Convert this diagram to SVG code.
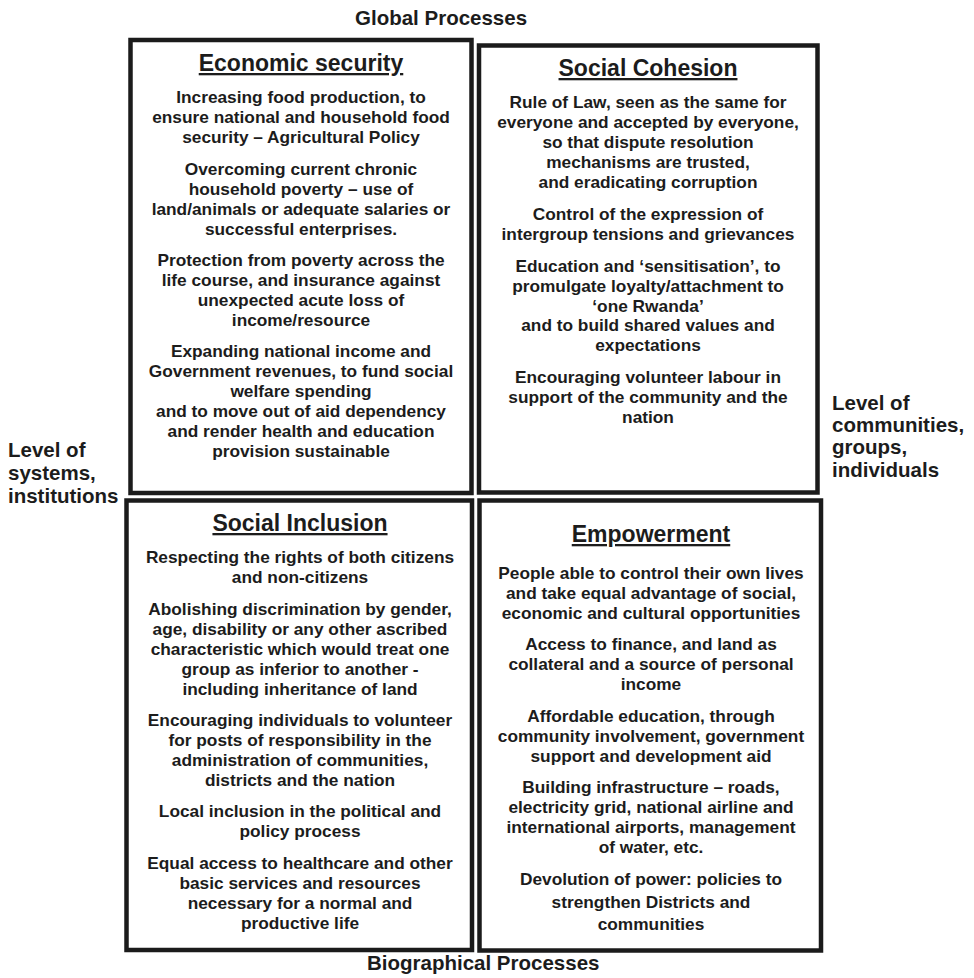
<svg xmlns="http://www.w3.org/2000/svg" width="974" height="978" viewBox="0 0 974 978">
  <style>
    .box { fill: #ffffff; stroke: #1b1b1b; stroke-width: 4.5; }
    text { font-family: "Liberation Sans", Arial, Helvetica, sans-serif; font-weight: bold; fill: #1c1c1c; }
    .title { font-size: 23px; text-anchor: middle; text-decoration: underline; }
    .body { font-size: 17.3px; text-anchor: middle; }
    .axis { font-size: 20.5px; }
  </style>

  <rect width="974" height="978" fill="#ffffff"/>

  <!-- axis labels around the grid -->
  <g id="axis-labels">
    <text class="axis" x="355" y="25">Global Processes</text>
    <text class="axis" x="367" y="970">Biographical Processes</text>
    <text class="axis" x="8" y="457">Level of</text>
    <text class="axis" x="8" y="480">systems,</text>
    <text class="axis" x="8" y="503">institutions</text>
    <text class="axis" x="832" y="410">Level of</text>
    <text class="axis" x="832" y="432">communities,</text>
    <text class="axis" x="832" y="454">groups,</text>
    <text class="axis" x="832" y="477">individuals</text>
  </g>

  <!-- top-left quadrant -->
  <g id="economic-security">
    <rect class="box" x="130.5" y="40" width="341" height="453"/>
    <text class="title" x="301" y="71">Economic security</text>
    <text class="body" x="301" y="103">Increasing food production, to</text>
    <text class="body" x="301" y="123">ensure national and household food</text>
    <text class="body" x="301" y="143">security – Agricultural Policy</text>
    <text class="body" x="301" y="175">Overcoming current chronic</text>
    <text class="body" x="301" y="195">household poverty – use of</text>
    <text class="body" x="301" y="215">land/animals or adequate salaries or</text>
    <text class="body" x="301" y="235">successful enterprises.</text>
    <text class="body" x="301" y="266">Protection from poverty across the</text>
    <text class="body" x="301" y="286">life course, and insurance against</text>
    <text class="body" x="301" y="306">unexpected acute loss of</text>
    <text class="body" x="301" y="326">income/resource</text>
    <text class="body" x="301" y="357">Expanding national income and</text>
    <text class="body" x="301" y="377">Government revenues, to fund social</text>
    <text class="body" x="301" y="397">welfare spending</text>
    <text class="body" x="301" y="417">and to move out of aid dependency</text>
    <text class="body" x="301" y="437">and render health and education</text>
    <text class="body" x="301" y="457">provision sustainable</text>
  </g>

  <!-- top-right quadrant -->
  <g id="social-cohesion">
    <rect class="box" x="479" y="45.5" width="338.5" height="447"/>
    <text class="title" x="648" y="76">Social Cohesion</text>
    <text class="body" x="648" y="108">Rule of Law, seen as the same for</text>
    <text class="body" x="648" y="128">everyone and accepted by everyone,</text>
    <text class="body" x="648" y="148">so that dispute resolution</text>
    <text class="body" x="648" y="168">mechanisms are trusted,</text>
    <text class="body" x="648" y="188">and eradicating corruption</text>
    <text class="body" x="648" y="220">Control of the expression of</text>
    <text class="body" x="648" y="240">intergroup tensions and grievances</text>
    <text class="body" x="648" y="272">Education and ‘sensitisation’, to</text>
    <text class="body" x="648" y="292">promulgate loyalty/attachment to</text>
    <text class="body" x="648" y="312">‘one Rwanda’</text>
    <text class="body" x="648" y="331">and to build shared values and</text>
    <text class="body" x="648" y="351">expectations</text>
    <text class="body" x="648" y="383">Encouraging volunteer labour in</text>
    <text class="body" x="648" y="403">support of the community and the</text>
    <text class="body" x="648" y="423">nation</text>
  </g>

  <!-- bottom-left quadrant -->
  <g id="social-inclusion">
    <rect class="box" x="126.5" y="500.5" width="345.5" height="449.5"/>
    <text class="title" x="300" y="531">Social Inclusion</text>
    <text class="body" x="300" y="563">Respecting the rights of both citizens</text>
    <text class="body" x="300" y="583">and non-citizens</text>
    <text class="body" x="300" y="615">Abolishing discrimination by gender,</text>
    <text class="body" x="300" y="635">age, disability or any other ascribed</text>
    <text class="body" x="300" y="655">characteristic which would treat one</text>
    <text class="body" x="300" y="675">group as inferior to another -</text>
    <text class="body" x="300" y="695">including inheritance of land</text>
    <text class="body" x="300" y="726">Encouraging individuals to volunteer</text>
    <text class="body" x="300" y="746">for posts of responsibility in the</text>
    <text class="body" x="300" y="766">administration of communities,</text>
    <text class="body" x="300" y="786">districts and the nation</text>
    <text class="body" x="300" y="817">Local inclusion in the political and</text>
    <text class="body" x="300" y="837">policy process</text>
    <text class="body" x="300" y="869">Equal access to healthcare and other</text>
    <text class="body" x="300" y="889">basic services and resources</text>
    <text class="body" x="300" y="909">necessary for a normal and</text>
    <text class="body" x="300" y="929">productive life</text>
  </g>

  <!-- bottom-right quadrant -->
  <g id="empowerment">
    <rect class="box" x="479.5" y="500.5" width="341.5" height="450"/>
    <text class="title" x="651" y="542">Empowerment</text>
    <text class="body" x="651" y="579">People able to control their own lives</text>
    <text class="body" x="651" y="599">and take equal advantage of social,</text>
    <text class="body" x="651" y="619">economic and cultural opportunities</text>
    <text class="body" x="651" y="650">Access to finance, and land as</text>
    <text class="body" x="651" y="670">collateral and a source of personal</text>
    <text class="body" x="651" y="690">income</text>
    <text class="body" x="651" y="722">Affordable education, through</text>
    <text class="body" x="651" y="742">community involvement, government</text>
    <text class="body" x="651" y="762">support and development aid</text>
    <text class="body" x="651" y="793">Building infrastructure – roads,</text>
    <text class="body" x="651" y="813">electricity grid, national airline and</text>
    <text class="body" x="651" y="833">international airports, management</text>
    <text class="body" x="651" y="853">of water, etc.</text>
    <text class="body" x="651" y="885">Devolution of power: policies to</text>
    <text class="body" x="651" y="908">strengthen Districts and</text>
    <text class="body" x="651" y="930">communities</text>
  </g>

  <!-- the grid has no connectors -->
  <g id="connectors"/>
</svg>
